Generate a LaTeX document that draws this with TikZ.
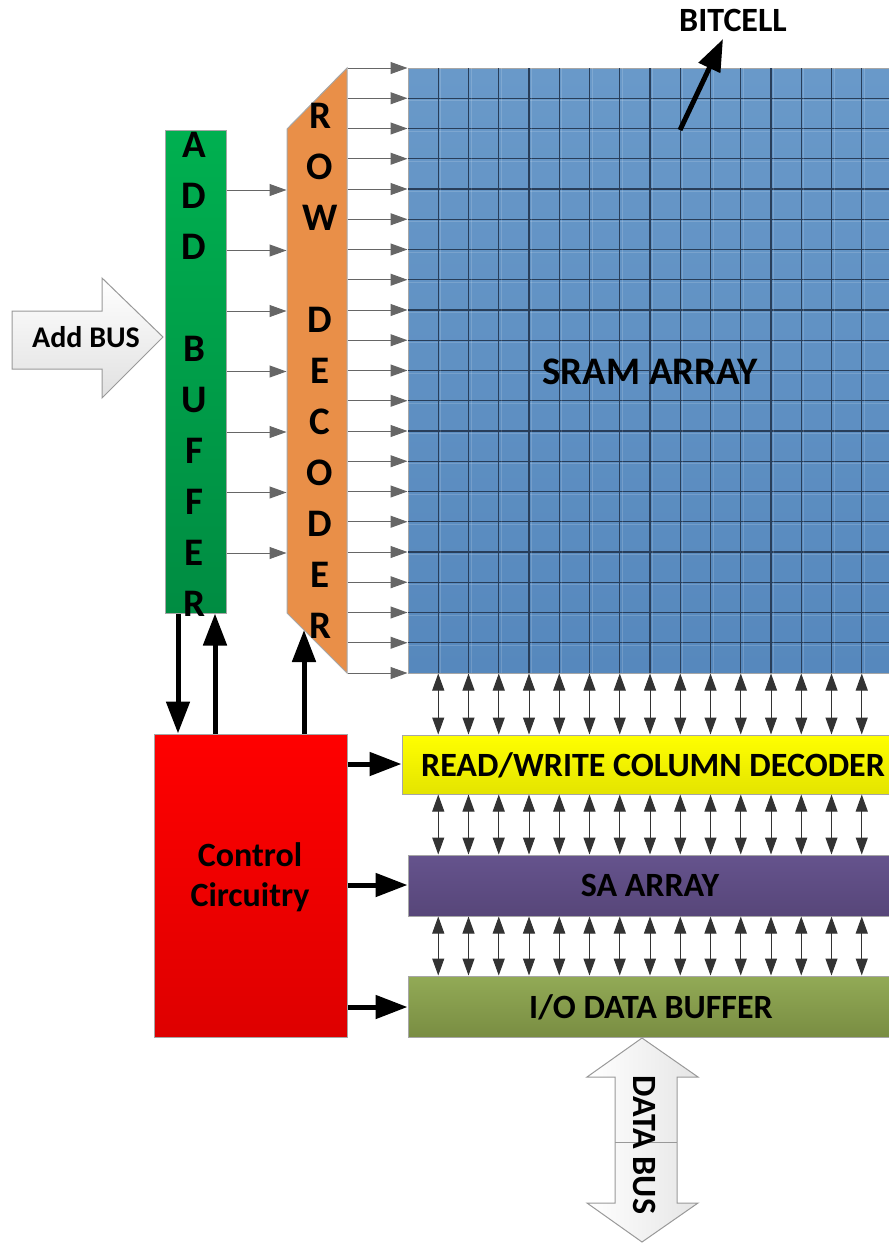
\documentclass[tikz,border=0pt]{standalone}
\usepackage{fontspec}
\setmainfont{Carlito}
\usetikzlibrary{arrows.meta,fit}
\definecolor{sramtop}{RGB}{105,153,201}
\definecolor{srambot}{RGB}{86,136,189}
\definecolor{gridln}{RGB}{40,62,90}
\definecolor{rowcol}{RGB}{233,143,72}
\definecolor{buftop}{RGB}{0,176,80}
\definecolor{bufbot}{RGB}{0,140,66}
\definecolor{ctrlbot}{RGB}{222,0,0}
\definecolor{coltop}{RGB}{255,255,0}
\definecolor{colbot}{RGB}{228,228,0}
\definecolor{satop}{RGB}{101,83,141}
\definecolor{sabot}{RGB}{87,70,121}
\definecolor{iotop}{RGB}{146,170,86}
\definecolor{iobot}{RGB}{121,141,66}
\begin{document}
\begin{tikzpicture}[x=.5pt,y=-.5pt,line width=.5pt,font=\bfseries,
  blk/.style={inner sep=0pt,draw=black!35},
  sig/.style={draw=black!60,-{Triangle[length=8.5pt,width=6pt]}},
  bidir/.style={draw=black!80,{Triangle[length=8.5pt,width=6pt]}-{Triangle[length=8.5pt,width=6pt]}},
  fat/.style={line width=2.5pt,-{Triangle[length=16pt,width=11.5pt]}},
  lbl/.style={font=\fontsize{17}{20}\selectfont\bfseries},
  tall/.style={align=center,font=\fontsize{19.5}{25.5}\selectfont\bfseries}]
\useasboundingbox (0,0) rectangle (889,1243);
\clip (0,0) rectangle (889,1243);
\node[blk,fit={(408,68)(895,673)},top color=sramtop,bottom color=srambot] (sram) {};
\foreach \k [evaluate=\k as \yy using 68+30.25*\k] in {1,...,19}{
  \draw[white,opacity=.15] (408,\yy+2.5) -- (895,\yy+2.5);
  \draw[gridln,line width=.55pt] (408,\yy) -- (895,\yy);}
\foreach \k [evaluate=\k as \xx using 408+30.25*\k] in {1,...,16}{
  \draw[white,opacity=.15] (\xx+2.5,68) -- (\xx+2.5,673);
  \draw[gridln,line width=.55pt] (\xx,68) -- (\xx,673);}
\node[font=\fontsize{19.5}{23}\selectfont\bfseries] (sramlbl) at (650,372) {SRAM ARRAY};
\filldraw[fill=rowcol,draw=black!35] (287,129) -- (347,68) -- (347,673) -- (287,613) -- cycle;
\node[inner sep=0pt,fit={(287,68)(347,673)}] (rowdec) {};
\node[tall] (rowtxt) at (320,370.5) {R\\O\\W\\~\\D\\E\\C\\O\\D\\E\\R};
\node[blk,fit={(165,130)(226,613)},top color=buftop,bottom color=bufbot] (buf) {};
\node[tall] (buftxt) at (194,374) {A\\D\\D\\~\\B\\U\\F\\F\\E\\R};
\node[blk,fit={(154,734)(347,1037)},top color=red,bottom color=ctrlbot] (ctrl) {};
\node[lbl,align=center] (ctrltxt) at (250,877) {Control\\Circuitry};
\node[blk,fit={(402,735)(895,794)},top color=coltop,bottom color=colbot] (coldec) {};
\node[lbl] (coltxt) at (653,765) {READ/WRITE COLUMN DECODER};
\node[blk,fit={(408,855)(895,916)},top color=satop,bottom color=sabot] (sa) {};
\node[lbl] (satxt) at (650,885) {SA ARRAY};
\node[blk,fit={(408,976)(895,1037)},top color=iotop,bottom color=iobot] (io) {};
\node[lbl] (iotxt) at (651,1007) {I/O DATA BUFFER};
\foreach \k [evaluate=\k as \yy using 190+60.5*\k] in {0,...,6}
  \draw[sig] (buf.east |- 0,\yy) -- (rowdec.west |- 0,\yy);
\foreach \k [evaluate=\k as \yy using 68+30.25*\k] in {0,...,20}
  \draw[sig] (rowdec.east |- 0,\yy) -- (sram.west |- 0,\yy);
\foreach \k [evaluate=\k as \xx using 408+30.25*\k] in {1,...,15}{
  \draw[bidir] (\xx,0 |- sram.south) -- (\xx,0 |- coldec.north);
  \draw[bidir] (\xx,0 |- coldec.south) -- (\xx,0 |- sa.north);
  \draw[bidir] (\xx,0 |- sa.south) -- (\xx,0 |- io.north);}
\draw[fat] (178,0 |- buf.south) -- (178,0 |- ctrl.north);
\draw[fat] (215,0 |- ctrl.north) -- (215,0 |- buf.south);
\coordinate (rdtip) at (304,630);
\draw[fat] (304,0 |- ctrl.north) -- (rdtip);
\foreach \yy/\dest in {764/coldec,885/sa,1007/io}
  \draw[fat] (ctrl.east |- 0,\yy) -- (\dest.west |- 0,\yy);
\node[lbl] (bitcell) at (733,20) {BITCELL};
\coordinate (cell) at (680,130);
\coordinate (celltip) at (723,39);
\draw[fat] (cell) -- (celltip);
\draw[draw=black!40,top color=white,bottom color=black!12] (12,311) -- (102,311) -- (102,278) -- (163,337) -- (102,398) -- (102,369) -- (12,369) -- cycle;
\node[font=\fontsize{15}{18}\selectfont\bfseries] (addbus) at (86,337) {Add BUS};
\draw[draw=black!40,left color=white,right color=black!10] (642,1038) -- (698,1077) -- (677,1077) -- (677,1203) -- (698,1203) -- (642,1242) -- (587,1203) -- (615,1203) -- (615,1077) -- (587,1077) -- cycle;
\draw[black!40] (615,1142) -- (677,1142);
\node[lbl,rotate=-90] (databus) at (645,1145) {DATA BUS};
\end{tikzpicture}
\end{document}
